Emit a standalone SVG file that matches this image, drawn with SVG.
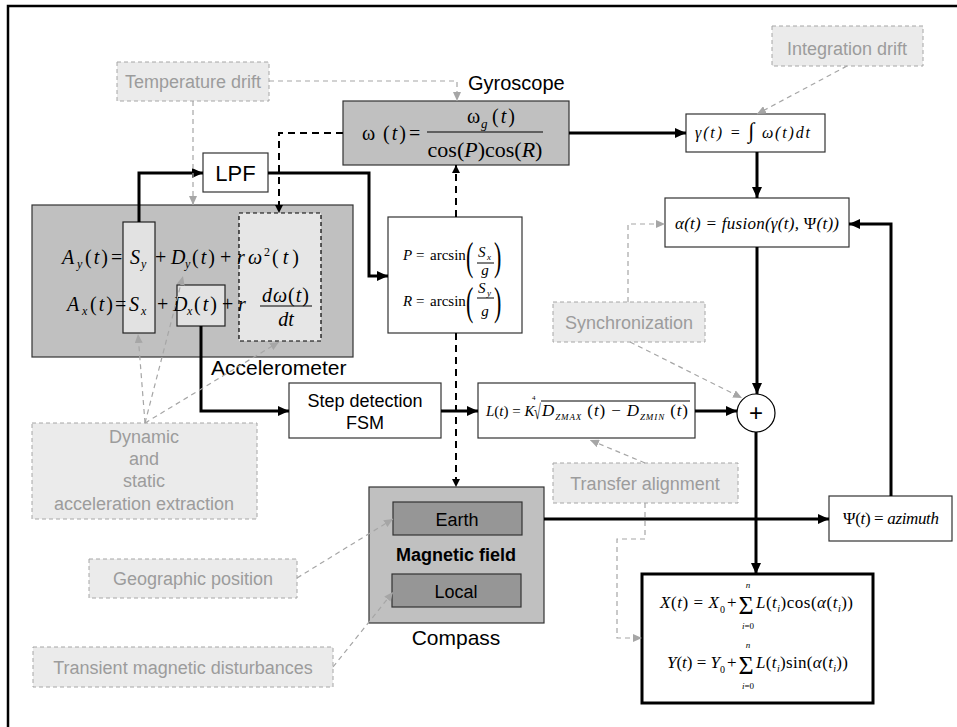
<svg xmlns="http://www.w3.org/2000/svg" width="957" height="727" viewBox="0 0 957 727">
<defs>
  <marker id="ah" markerUnits="userSpaceOnUse" markerWidth="12" markerHeight="10" refX="11" refY="5" orient="auto">
    <path d="M0,0 L11,5 L0,10 z" fill="#000"/>
  </marker>
  <marker id="ahs" markerUnits="userSpaceOnUse" markerWidth="9" markerHeight="8" refX="8" refY="4" orient="auto">
    <path d="M0,0 L8,4 L0,8 z" fill="#000"/>
  </marker>
  <marker id="ahg" markerUnits="userSpaceOnUse" markerWidth="10" markerHeight="8" refX="9" refY="4" orient="auto">
    <path d="M0,0 L9,4 L0,8 z" fill="#a6a6a6"/>
  </marker>
</defs>
<style>
  .sans{font-family:"Liberation Sans",Arial,sans-serif}
  .m{font-family:"Liberation Serif","Times New Roman",serif}
  .i{font-style:italic}
  .note rect{fill:#ebebeb;stroke:#a6a6a6;stroke-width:1;stroke-dasharray:4 3}
  .note text{fill:#9c9c9c;font-size:18px;text-anchor:middle}
  .box{fill:#fff;stroke:#333;stroke-width:1.2}
  .grey{fill:#c0c0c0;stroke:#333;stroke-width:1.2}
  .dark{fill:#969696;stroke:#333;stroke-width:1.2}
  .light{fill:#e2e2e2;stroke:#222;stroke-width:1.2}
  .lbl{font-size:21px;fill:#000}
  .wire{fill:none;stroke:#000;stroke-width:3;marker-end:url(#ah)}
  .dash{fill:none;stroke:#000;stroke-width:2;stroke-dasharray:7 5;marker-end:url(#ahs)}
  .gdash{fill:none;stroke:#a6a6a6;stroke-width:1.2;stroke-dasharray:5 4;marker-end:url(#ahg)}
  .bar{stroke:#000;stroke-width:1}
</style>

<!-- frame -->
<path d="M8,727 V6 H957" fill="none" stroke="#000" stroke-width="2.5"/>

<!-- accelerometer -->
<g id="accelerometer">
  <rect class="grey" x="32" y="205" width="321" height="152"/>
  <rect class="light" x="123" y="222" width="32" height="111"/>
  <rect class="light" x="177" y="285" width="48" height="41"/>
  <rect x="239" y="213" width="82" height="128" fill="#e6e6e6" stroke="#000" stroke-width="1.2" stroke-dasharray="4 3"/>
  <g class="m" font-size="20">
    <text y="264"><tspan x="62" class="i">A</tspan><tspan x="77" y="268" font-size="12" class="i">y</tspan><tspan x="85" y="264" letter-spacing="2">(<tspan class="i">t</tspan>)</tspan><tspan x="111">=</tspan><tspan x="130" class="i">S</tspan><tspan x="141" y="268" font-size="12" class="i">y</tspan><tspan x="155" y="264">+</tspan><tspan x="171" class="i">D</tspan><tspan x="185" y="268" font-size="12" class="i">y</tspan><tspan x="192" y="264" letter-spacing="2">(<tspan class="i">t</tspan>)</tspan><tspan x="220">+</tspan><tspan x="237" class="i">r</tspan><tspan x="248" class="i">ω</tspan><tspan x="264" y="256" font-size="12">2</tspan><tspan x="272" y="264" letter-spacing="4">(<tspan class="i">t</tspan>)</tspan></text>
    <text y="311"><tspan x="67" class="i">A</tspan><tspan x="82" y="315" font-size="12" class="i">x</tspan><tspan x="90" y="311" letter-spacing="2">(<tspan class="i">t</tspan>)</tspan><tspan x="115">=</tspan><tspan x="129" class="i">S</tspan><tspan x="141" y="315" font-size="12" class="i">x</tspan><tspan x="157" y="311">+</tspan><tspan x="173" class="i">D</tspan><tspan x="187" y="315" font-size="12" class="i">x</tspan><tspan x="194" y="311" letter-spacing="2">(<tspan class="i">t</tspan>)</tspan><tspan x="222">+</tspan><tspan x="238" class="i">r</tspan></text>
    <text x="286" y="302" text-anchor="middle" letter-spacing="1"><tspan class="i">dω</tspan>(<tspan class="i">t</tspan>)</text>
    <line class="bar" x1="260" y1="306" x2="312" y2="306"/>
    <text x="286" y="326" text-anchor="middle" class="i">dt</text>
  </g>
  <text class="sans lbl" x="211" y="375">Accelerometer</text>
</g>

<!-- low-pass filter -->
<g id="lpf">
  <rect class="box" x="203" y="153" width="65" height="39"/>
  <text class="sans" x="235.5" y="181" font-size="22" text-anchor="middle">LPF</text>
</g>

<!-- gyroscope -->
<g id="gyroscope">
  <rect class="grey" x="343" y="101" width="226" height="64"/>
  <g class="m" font-size="20">
    <text y="140"><tspan x="362">ω</tspan><tspan x="383" letter-spacing="2">(<tspan class="i">t</tspan>)</tspan><tspan x="409">=</tspan></text>
    <text y="123"><tspan x="467">ω</tspan><tspan x="481" y="128" font-size="13" class="i">g</tspan><tspan x="492" y="123" letter-spacing="2">(<tspan class="i">t</tspan>)</tspan></text>
    <line class="bar" x1="427" y1="132" x2="543" y2="132"/>
    <text x="485" y="157" text-anchor="middle" font-size="22">cos(<tspan class="i">P</tspan>)cos(<tspan class="i">R</tspan>)</text>
  </g>
  <text class="sans" x="468" y="90" font-size="20">Gyroscope</text>
</g>

<!-- pitch / roll -->
<g id="pitch-roll">
  <rect class="box" x="388" y="217" width="134" height="116"/>
  <g class="m" font-size="15">
    <text y="260"><tspan x="403" class="i">P</tspan><tspan x="416">=</tspan><tspan x="430">arcsin</tspan></text>
    <text transform="translate(466,270) scale(0.55,1)" font-size="40">(</text>
    <text><tspan x="478" y="257" class="i">S</tspan><tspan x="487" y="260" font-size="9" class="i">x</tspan></text>
    <line class="bar" x1="477" y1="263" x2="494" y2="263"/>
    <text x="485" y="275" text-anchor="middle" class="i">g</text>
    <text transform="translate(494,270) scale(0.55,1)" font-size="40">)</text>

    <text y="306"><tspan x="403" class="i">R</tspan><tspan x="416">=</tspan><tspan x="430">arcsin</tspan></text>
    <text transform="translate(466,315) scale(0.55,1)" font-size="40">(</text>
    <text><tspan x="478" y="293" class="i">S</tspan><tspan x="487" y="296" font-size="9" class="i">y</tspan></text>
    <line class="bar" x1="477" y1="298" x2="494" y2="298"/>
    <text x="485" y="316" text-anchor="middle" class="i">g</text>
    <text transform="translate(494,315) scale(0.55,1)" font-size="40">)</text>
  </g>
</g>

<!-- heading integration -->
<g id="integration">
  <rect class="box" x="686" y="114" width="139" height="38"/>
  <text class="m i" x="695" y="138" font-size="16" textLength="115" lengthAdjust="spacing">γ(t) = <tspan font-style="normal" font-size="22">∫</tspan> ω(t)dt</text>
</g>

<!-- fusion -->
<g id="fusion">
  <rect class="box" x="665" y="198" width="184" height="49"/>
  <text class="m i" x="675" y="229" font-size="17" textLength="164" lengthAdjust="spacing">α(t) = fusion(γ(t), <tspan font-style="normal">Ψ</tspan>(t))</text>
</g>

<!-- summation -->
<g id="sum">
  <circle cx="756" cy="413" r="19" fill="#fff" stroke="#000" stroke-width="1.2"/>
  <text class="sans" x="756" y="421" font-size="24" text-anchor="middle">+</text>
</g>

<!-- azimuth -->
<g id="azimuth">
  <rect class="box" x="829" y="496" width="123" height="45"/>
  <text class="m" x="843" y="524" font-size="17" textLength="96" lengthAdjust="spacing">Ψ(<tspan class="i">t</tspan>) = <tspan class="i">azimuth</tspan></text>
</g>

<!-- position update -->
<g id="position">
  <rect x="642" y="574" width="231" height="129" fill="#fff" stroke="#000" stroke-width="3"/>
  <g class="m" font-size="17">
    <text x="660" y="608" textLength="59" lengthAdjust="spacing"><tspan class="i">X</tspan>(<tspan class="i">t</tspan>) = <tspan class="i">X</tspan></text>
    <text x="720" y="613" font-size="10">0</text>
    <text x="727" y="608">+</text>
    <text x="746" y="614" text-anchor="middle" font-size="26">Σ</text>
    <text x="748" y="588" text-anchor="middle" font-size="9" class="i">n</text>
    <text x="748" y="629" text-anchor="middle" font-size="9"><tspan class="i">i</tspan>=0</text>
    <text x="756" y="608" textLength="97" lengthAdjust="spacing"><tspan class="i">L</tspan>(<tspan class="i">t</tspan><tspan dy="4" font-size="10" class="i">i</tspan><tspan dy="-4">)cos(</tspan><tspan class="i">α</tspan>(<tspan class="i">t</tspan><tspan dy="4" font-size="10" class="i">i</tspan><tspan dy="-4">))</tspan></text>

    <text x="667" y="668" textLength="53" lengthAdjust="spacing"><tspan class="i">Y</tspan>(<tspan class="i">t</tspan>) = <tspan class="i">Y</tspan></text>
    <text x="720" y="673" font-size="10">0</text>
    <text x="727" y="668">+</text>
    <text x="746" y="674" text-anchor="middle" font-size="26">Σ</text>
    <text x="748" y="648" text-anchor="middle" font-size="9" class="i">n</text>
    <text x="748" y="689" text-anchor="middle" font-size="9"><tspan class="i">i</tspan>=0</text>
    <text x="756" y="668" textLength="92" lengthAdjust="spacing"><tspan class="i">L</tspan>(<tspan class="i">t</tspan><tspan dy="4" font-size="10" class="i">i</tspan><tspan dy="-4">)sin(</tspan><tspan class="i">α</tspan>(<tspan class="i">t</tspan><tspan dy="4" font-size="10" class="i">i</tspan><tspan dy="-4">))</tspan></text>
  </g>
</g>

<!-- step detection -->
<g id="step-detection">
  <rect class="box" x="289" y="383" width="152" height="55"/>
  <text class="sans" x="365" y="407" font-size="18" text-anchor="middle">Step detection</text>
  <text class="sans" x="365" y="429" font-size="18" text-anchor="middle">FSM</text>
</g>

<!-- step length -->
<g id="step-length">
  <rect class="box" x="478" y="383" width="217" height="55"/>
  <g class="m" font-size="17">
    <text x="486" y="416" font-size="15"><tspan class="i">L</tspan>(<tspan class="i">t</tspan>) = <tspan class="i">K</tspan></text>
    <text x="532" y="400" font-size="7">4</text>
    <text transform="translate(534,419) scale(0.65,1.1)" font-size="19">√</text>
    <line class="bar" x1="541" y1="401" x2="690" y2="401"/>
    <text x="542" y="416" textLength="146" lengthAdjust="spacing"><tspan class="i">D</tspan><tspan dy="4" font-size="9" class="i">ZMAX</tspan><tspan dy="-4"> (</tspan><tspan class="i">t</tspan>) − <tspan class="i">D</tspan><tspan dy="4" font-size="9" class="i">ZMIN</tspan><tspan dy="-4"> (</tspan><tspan class="i">t</tspan>)</text>
  </g>
</g>

<!-- compass -->
<g id="compass">
  <rect class="grey" x="369" y="487" width="175" height="136"/>
  <rect class="dark" x="393" y="502" width="129" height="33"/>
  <rect class="dark" x="392" y="574" width="129" height="33"/>
  <text class="sans" x="457" y="526" font-size="18" text-anchor="middle">Earth</text>
  <text class="sans" x="456" y="561" font-size="18" font-weight="bold" text-anchor="middle">Magnetic field</text>
  <text class="sans" x="456" y="598" font-size="18" text-anchor="middle">Local</text>
  <text class="sans lbl" x="456" y="645" text-anchor="middle">Compass</text>
</g>

<!-- error sources -->
<g id="temperature-drift" class="note sans">
  <rect x="117" y="62" width="152" height="39"/>
  <text x="193" y="88">Temperature drift</text>
</g>
<g id="integration-drift" class="note sans">
  <rect x="772" y="26" width="151" height="40"/>
  <text x="847" y="55">Integration drift</text>
</g>
<g id="synchronization" class="note sans">
  <rect x="553" y="302" width="152" height="40"/>
  <text x="629" y="329">Synchronization</text>
</g>
<g id="transfer-alignment" class="note sans">
  <rect x="553" y="463" width="185" height="40"/>
  <text x="645" y="490">Transfer alignment</text>
</g>
<g id="acceleration-extraction" class="note sans">
  <rect x="32" y="423" width="225" height="96"/>
  <text x="144" y="443">Dynamic</text>
  <text x="144" y="465">and</text>
  <text x="144" y="487">static</text>
  <text x="144" y="510">acceleration extraction</text>
</g>
<g id="geographic-position" class="note sans">
  <rect x="89" y="559" width="208" height="39"/>
  <text x="193" y="585">Geographic position</text>
</g>
<g id="magnetic-disturbances" class="note sans">
  <rect x="33" y="647" width="300" height="40"/>
  <text x="183" y="674">Transient magnetic disturbances</text>
</g>

<!-- connectors -->
<g id="connectors">
  <path class="wire" d="M139,222 V173 H203"/>
  <path class="wire" d="M268,173 H369 V276 H388"/>
  <path class="wire" d="M201,326 V411 H289"/>
  <path class="wire" d="M441,411 H478"/>
  <path class="wire" d="M695,411 H737"/>
  <path class="wire" d="M569,133 H686"/>
  <path class="wire" d="M757,152 V198"/>
  <path class="wire" d="M757,247 V394"/>
  <path class="wire" d="M756,432 V574"/>
  <path class="wire" d="M544,519 H829"/>
  <path class="wire" d="M891,496 V224 H849"/>

  <path class="dash" d="M343,133 H279 V213"/>
  <path class="dash" d="M456,217 V165"/>
  <path class="dash" d="M456,333 V487"/>

  <path class="gdash" d="M193,101 V205"/>
  <path class="gdash" d="M269,81 H457 V101"/>
  <path class="gdash" d="M847,66 L757,114"/>
  <path class="gdash" d="M628,302 V224 H665"/>
  <path class="gdash" d="M630,342 L742,398"/>
  <path class="gdash" d="M645,463 L590,440"/>
  <path class="gdash" d="M645,503 V539 H617 V638 H642"/>
  <path class="gdash" d="M145,423 L138,334"/>
  <path class="gdash" d="M145,423 L183,276"/>
  <path class="gdash" d="M145,423 L279,342"/>
  <path class="gdash" d="M297,578 L393,519"/>
  <path class="gdash" d="M333,667 L393,592"/>
</g>
</svg>
